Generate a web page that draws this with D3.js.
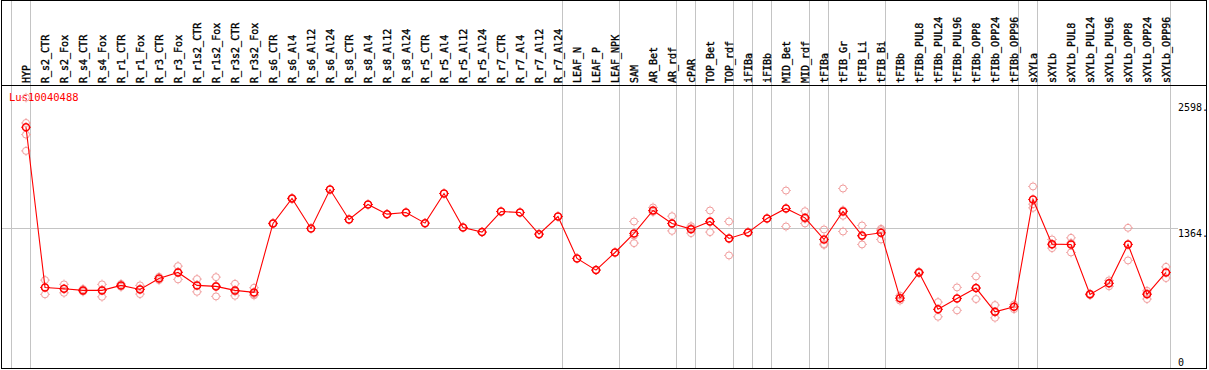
<!DOCTYPE html>
<html><head><meta charset="utf-8">
<script src="https://cdn.jsdelivr.net/npm/d3@7"></script>
<style>html,body{margin:0;padding:0;background:#fff;}svg{display:block;}</style>
</head><body>
<script>
const title = "Lus10040488";
const categories = ["HYP","R_s2_CTR","R_s2_Fox","R_s4_CTR","R_s4_Fox","R_r1_CTR","R_r1_Fox","R_r3_CTR","R_r3_Fox","R_r1s2_CTR","R_r1s2_Fox","R_r3s2_CTR","R_r3s2_Fox","R_s6_CTR","R_s6_Al4","R_s6_Al12","R_s6_Al24","R_s8_CTR","R_s8_Al4","R_s8_Al12","R_s8_Al24","R_r5_CTR","R_r5_Al4","R_r5_Al12","R_r5_Al24","R_r7_CTR","R_r7_Al4","R_r7_Al12","R_r7_Al24","LEAF_N","LEAF_P","LEAF_NPK","SAM","AR_Bet","AR_rdf","cPAR","TOP_Bet","TOP_rdf","iFIBa","iFIBb","MID_Bet","MID_rdf","tFIBa","tFIB_Gr","tFIB_Li","tFIB_Bi","tFIBb","tFIBb_PUL8","tFIBb_PUL24","tFIBb_PUL96","tFIBb_OPP8","tFIBb_OPP24","tFIBb_OPP96","sXYLa","sXYLb","sXYLb_PUL8","sXYLb_PUL24","sXYLb_PUL96","sXYLb_OPP8","sXYLb_OPP24","sXYLb_OPP96"];
const means = [2353,781,768,752,752,801,761,869,928,801,791,752,732,1409,1654,1360,1742,1448,1595,1500,1517,1412,1703,1370,1324,1526,1517,1304,1477,1066,951,1124,1311,1536,1409,1353,1428,1262,1321,1458,1556,1464,1252,1526,1291,1317,676,928,566,673,775,542,591,1644,1206,1203,713,821,1203,713,928];
const replicates = [
 [2644,2395,2281,2121],[853,781,713],[811,768,728],[765,752,740],[811,757,689],[815,801,787],[801,766,716],[853,885,869],[990,934,860],[863,801,738],[882,798,693],[817,740,699],[778,715,703],
 [1405,1413],[1650,1658],[1360],[1742],[1448],[1595],[1500],[1517],[1412],[1703],[1370],[1324],[1526],[1517],[1304],[1477],[1066],[951],[1124],
 [1428,1216,1290],[1566,1522],[1480,1409,1336],[1382,1314,1363],[1536,1424,1324],[1428,1262,1095],[1321],[1458],[1732,1556,1379],[1529,1454,1409],[1350,1207,1199],[1752,1484,1330,1538],[1389,1281,1203],[1356,1343,1252],
 [700,676,652],[935,921],[637,566,493],[781,673,556],[889,775,667],[608,535,483],[614,591,568],
 [1772,1598,1562],[1252,1200,1167],[1268,1217,1124],[720,706],[850,821,792],[1366,1203,1046],[748,724,667],[983,928,873]
];
const groupStarts = ["HYP","R_s2_CTR","LEAF_N","SAM","cPAR","TOP_Bet","iFIBa","iFIBb","MID_Bet","tFIBa","tFIB_Gr","tFIBb","sXYLa","sXYLb"];
const yTicks = [2598, 1364, 0];
const gridValue = 1364;

const W = 1209, H = 370;
const svg = d3.select("body").append("svg").attr("width", W).attr("height", H)
  .style("font-family", "'DejaVu Sans Mono', monospace");
svg.append("rect").attr("width", W).attr("height", H).attr("fill", "#fff");

const x = d3.scaleBand().domain(categories).range([11, 11 + 19 * categories.length]).paddingInner(0).paddingOuter(0);
const px = c => x(c) + x.bandwidth() * 0.79;
const y = d3.scaleLinear().domain([0, 2598]).range([367, 102.3]);

const red = "#ff0000", pale = "#f09a9a", grid = "#c4c4c4";

// vertical group separators
const sepX = groupStarts.map(c => x(c)).concat([x.range()[1]]);
svg.selectAll("line.sep").data(sepX).join("line")
  .attr("x1", d => d + 0.5).attr("x2", d => d + 0.5).attr("y1", 0).attr("y2", 369)
  .attr("stroke", grid).attr("stroke-width", 1);

// horizontal grid line
svg.append("line").attr("x1", 1).attr("x2", 1178)
  .attr("y1", Math.round(y(gridValue)) + 0.5).attr("y2", Math.round(y(gridValue)) + 0.5)
  .attr("stroke", grid);

// frame
svg.append("line").attr("x1", 1).attr("x2", 1207).attr("y1", 0.5).attr("y2", 0.5).attr("stroke", "#000");
svg.append("line").attr("x1", 1).attr("x2", 1207).attr("y1", 368.5).attr("y2", 368.5).attr("stroke", "#000");
svg.append("line").attr("x1", 1.5).attr("x2", 1.5).attr("y1", 0).attr("y2", 369).attr("stroke", "#000");
svg.append("line").attr("x1", 1206.5).attr("x2", 1206.5).attr("y1", 0).attr("y2", 369).attr("stroke", "#000");
svg.append("line").attr("x1", 1).attr("x2", 1207).attr("y1", 85.5).attr("y2", 85.5).attr("stroke", "#000");

// category labels
svg.selectAll("text.cat").data(categories).join("text")
  .attr("transform", d => `translate(${px(d) + 3.5},83) rotate(-90)`)
  .attr("font-size", 10).attr("fill", "#000")
  .attr("stroke", "#000").attr("stroke-width", 0.35)
  .text(d => d);

// right axis labels
svg.selectAll("text.yt").data(yTicks).join("text")
  .attr("x", 1178)
  .attr("y", d => d === 0 ? y(d) - 1 : y(d) + 8.5)
  .attr("font-size", 10).attr("fill", "#000")
  .text(d => d === 0 ? "0" : d + ".");

// title
svg.append("text").attr("x", 9).attr("y", 101).attr("font-size", 10.5).attr("fill", red).text(title);

function marker(g, cx, cy, color, sw) {
  const r = 3.5;
  g.append("circle").attr("cx", cx).attr("cy", cy).attr("r", r)
    .attr("fill", "none").attr("stroke", color).attr("stroke-width", sw);
  [[0,-1],[0,1],[-1,0],[1,0]].forEach(([dx,dy]) => {
    g.append("line").attr("x1", cx + dx * (r + 0.5)).attr("y1", cy + dy * (r + 0.5))
      .attr("x2", cx + dx * (r + 1.3)).attr("y2", cy + dy * (r + 1.3))
      .attr("stroke", color).attr("stroke-width", 1);
  });
}

// replicates
const gr = svg.append("g");
categories.forEach((c, i) => {
  replicates[i].forEach(v => marker(gr, px(c), y(v), pale, 1));
});

// mean line
const line = d3.line().x((d, i) => px(categories[i])).y(d => y(d));
svg.append("path").datum(means).attr("d", line).attr("fill", "none").attr("stroke", red).attr("stroke-width", 1.1);

// mean markers
const gm = svg.append("g");
categories.forEach((c, i) => marker(gm, px(c), y(means[i]), red, 1.5));
</script>
</body></html>
